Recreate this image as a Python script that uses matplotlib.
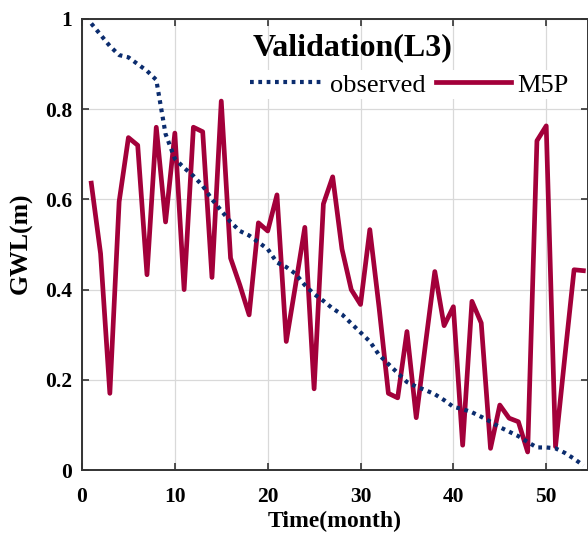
import matplotlib.pyplot as plt
import numpy as np

months = np.arange(1, 55)

observed = [0.99, 0.965, 0.94, 0.92, 0.915, 0.90, 0.885, 0.865, 0.745, 0.69,
            0.67, 0.652, 0.63, 0.60, 0.575, 0.55, 0.53, 0.52, 0.505, 0.49,
            0.46, 0.45, 0.435, 0.41, 0.39, 0.375, 0.358, 0.345, 0.325, 0.305,
            0.285, 0.255, 0.235, 0.215, 0.195, 0.185, 0.177, 0.168, 0.155, 0.14,
            0.135, 0.128, 0.118, 0.107, 0.095, 0.085, 0.075, 0.062, 0.05, 0.05,
            0.048, 0.038, 0.025, 0.01]

m5p = [0.636, 0.48, 0.17, 0.595, 0.737, 0.72, 0.433, 0.76, 0.55, 0.747,
       0.40, 0.76, 0.75, 0.427, 0.818, 0.47, 0.41, 0.344, 0.548, 0.53,
       0.61, 0.285, 0.41, 0.538, 0.18, 0.59, 0.65, 0.49, 0.40, 0.367,
       0.533, 0.36, 0.17, 0.16, 0.307, 0.116, 0.28, 0.44, 0.32, 0.362,
       0.055, 0.374, 0.326, 0.048, 0.144, 0.115, 0.107, 0.04, 0.73, 0.763,
       0.052, 0.25, 0.444, 0.442]

plt.rcParams["font.family"] = ["Liberation Serif", "DejaVu Serif"]

fig = plt.figure(figsize=(5.88, 5.34), dpi=100)
ax = fig.add_axes([82 / 588, 1 - 470 / 534, (588 - 82) / 588, (470 - 19) / 534])

ax.plot(months, observed, color="#0B2C6E", lw=3, dashes=(0.9, 1.1),
        dash_capstyle="butt", label="observed", zorder=3)
ax.plot(months, m5p, color="#A3003A", lw=3.4, label="M5P", zorder=2)

ax.set_xlim(0, 54.5)
ax.set_ylim(0, 1)
ax.set_xticks([0, 10, 20, 30, 40, 50])
ax.set_yticks([0, 0.2, 0.4, 0.6, 0.8, 1])
ax.set_yticklabels(["0", "0.2", "0.4", "0.6", "0.8", "1"])
ax.grid(True, color="#d9d9d9", lw=0.9)
ax.set_axisbelow(True)

ax.tick_params(direction="in", top=True, right=True, length=5, width=1.2,
               labelsize=15.5, color="#333333")
ax.tick_params(axis="x", pad=12)
ax.tick_params(axis="y", pad=7)
for lab in ax.get_xticklabels() + ax.get_yticklabels():
    lab.set_fontweight("bold")
for sp in ax.spines.values():
    sp.set_color("#333333")
    sp.set_linewidth(1.4)

fig.text(335 / 588, 1 - 527 / 534, "Time(month)", ha="center", va="baseline",
         fontsize=17, fontweight="bold")
fig.text(21 / 588, 1 - 243 / 534, "GWL(m)", ha="center", va="center",
         rotation=90, fontsize=18.5, fontweight="bold")

ax.text(0.534, 0.92, "Validation(L3)", transform=ax.transAxes, ha="center",
        va="baseline", fontsize=23, fontweight="bold")
leg = ax.legend(loc="center left", bbox_to_anchor=(0.326, 0.854), ncol=2,
                fontsize=19, frameon=True, framealpha=1, edgecolor="none",
                handlelength=2.85, handletextpad=0.2, columnspacing=0.4,
                borderpad=0.1, borderaxespad=0)

fig.savefig("out.png", dpi=100)
